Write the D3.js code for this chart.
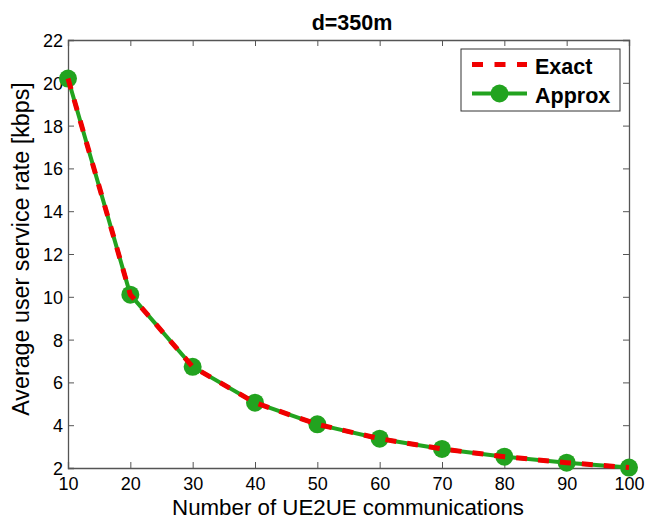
<!DOCTYPE html>
<html>
<head>
<meta charset="utf-8">
<script src="https://cdn.jsdelivr.net/npm/d3@7"></script>
<style>
  body { margin: 0; background: #fff; }
  svg { display: block; font-family: "Liberation Sans", Arial, sans-serif; }
</style>
</head>
<body>
<svg id="chart" width="645" height="523"></svg>
<script>
// data
const users = [10, 20, 30, 40, 50, 60, 70, 80, 90, 100];
const exactRate = [20.2, 10.1, 6.73, 5.05, 4.04, 3.37, 2.89, 2.53, 2.25, 2.02];
const approxRate = [20.2, 10.1, 6.73, 5.05, 4.04, 3.37, 2.89, 2.53, 2.25, 2.02];
const xTicks = [10, 20, 30, 40, 50, 60, 70, 80, 90, 100];
const yTicks = [2, 4, 6, 8, 10, 12, 14, 16, 18, 20, 22];
const seriesNames = ['Exact', 'Approx'];

const svg = d3.select('#chart');
const margin = {top: 40, right: 16, bottom: 55, left: 68};
const width = 645 - margin.left - margin.right;
const height = 523 - margin.top - margin.bottom;

const x = d3.scaleLinear().domain([10, 100]).range([0, width]);
const y = d3.scaleLinear().domain([2, 22]).range([height, 0]);

const g = svg.append('g').attr('transform', `translate(${margin.left},${margin.top})`);
const axisCol = '#555';
const tickLen = 6;

// ticks inside the box, both sides (matlab style)
const xAxisB = g.append('g').attr('transform', `translate(0,${height})`)
  .call(d3.axisBottom(x).tickValues(xTicks).tickSize(-tickLen).tickPadding(7));
const xAxisT = g.append('g')
  .call(d3.axisTop(x).tickValues(xTicks).tickSize(-tickLen).tickFormat(''));
const yAxisL = g.append('g')
  .call(d3.axisLeft(y).tickValues(yTicks).tickSize(-tickLen).tickPadding(5));
const yAxisR = g.append('g').attr('transform', `translate(${width},0)`)
  .call(d3.axisRight(y).tickValues(yTicks).tickSize(-tickLen).tickFormat(''));

[xAxisB, xAxisT, yAxisL, yAxisR].forEach(a => {
  a.select('.domain').attr('stroke', axisCol).attr('stroke-width', 1.3);
  a.selectAll('.tick line').attr('stroke', axisCol).attr('stroke-width', 1);
  a.selectAll('.tick text').attr('fill', '#000').style('font-size', '18px');
});
xAxisB.selectAll('.tick text').attr('dy', '0.85em');
yAxisL.selectAll('.tick text').attr('dy', '0.36em');

// lines
const green = '#22a31f';
const red = '#f00000';
const line = d3.line().x((d, i) => x(users[i])).y(d => y(d));

g.append('path').datum(approxRate)
  .attr('d', line)
  .attr('fill', 'none')
  .attr('stroke', green)
  .attr('stroke-width', 4);

g.selectAll('circle.approx').data(approxRate).join('circle')
  .attr('class', 'approx')
  .attr('cx', (d, i) => x(users[i]))
  .attr('cy', d => y(d))
  .attr('r', 9)
  .attr('fill', green);

g.append('path').datum(exactRate)
  .attr('d', line)
  .attr('fill', 'none')
  .attr('stroke', red)
  .attr('stroke-width', 5)
  .attr('stroke-dasharray', '11,11');

// title + labels
svg.append('text')
  .attr('x', 352)
  .attr('y', 30)
  .attr('text-anchor', 'middle')
  .style('font-size', '21.5px')
  .style('font-weight', 'bold')
  .text('d=350m');

svg.append('text')
  .attr('x', 348)
  .attr('y', 515)
  .attr('text-anchor', 'middle')
  .style('font-size', '22.3px')
  .text('Number of UE2UE communications');

svg.append('text')
  .attr('transform', `translate(28.5,249) rotate(-90)`)
  .attr('text-anchor', 'middle')
  .style('font-size', '23.3px')
  .text('Average user service rate [kbps]');

// legend
const legend = svg.append('g').attr('transform', 'translate(461,49)');
legend.append('rect')
  .attr('width', 159).attr('height', 62)
  .attr('fill', '#fff').attr('stroke', '#333').attr('stroke-width', 1);

const rows = legend.selectAll('g.row').data(seriesNames).join('g')
  .attr('class', 'row')
  .attr('transform', (d, i) => `translate(0,${15.5 + i * 29})`);

rows.append('line')
  .attr('x1', 11).attr('x2', 66)
  .attr('stroke', d => d === 'Exact' ? red : green)
  .attr('stroke-width', d => d === 'Exact' ? 5 : 4)
  .attr('stroke-dasharray', d => d === 'Exact' ? '11,11.5' : null);

rows.filter(d => d === 'Approx').append('circle')
  .attr('cx', 38.5).attr('r', 9).attr('fill', green);

rows.append('text')
  .attr('x', 74)
  .attr('dy', '0.45em')
  .style('font-size', '21.5px')
  .style('font-weight', 'bold')
  .text(d => d);
</script>
</body>
</html>
